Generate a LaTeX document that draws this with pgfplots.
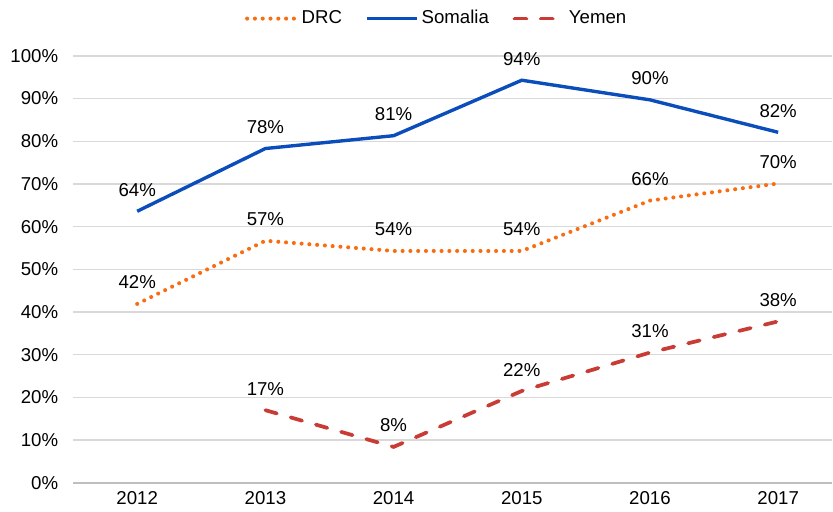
\documentclass[border=0pt]{standalone}
\usepackage{pgfplots}
\pgfplotsset{compat=1.18}
\usepackage{fontspec}
\setmainfont{Liberation Sans}
\definecolor{cDRC}{HTML}{F96C10}
\definecolor{cSom}{HTML}{0A4DBB}
\definecolor{cYem}{HTML}{C93C36}
\definecolor{gridc}{HTML}{D9D9D9}
\definecolor{axc}{HTML}{BFBFBF}
\begin{document}
\fontsize{11}{13}\selectfont
\begin{tikzpicture}
\begin{axis}[
  scale only axis, width=448pt, height=252pt,
  xmin=-0.5, xmax=5.42, ymin=0, ymax=100,
  xtick={0,1,2,3,4,5}, xticklabels={2012,2013,2014,2015,2016,2017},
  ytick={0,10,...,100},
  yticklabel={\pgfmathprintnumber{\tick}\%},
  /pgf/number format/assume math mode=true,
  ymajorgrids, grid style={draw=gridc, line width=0.8pt},
  axis x line*=bottom, axis y line*=left,
  y axis line style={draw=none},
  x axis line style={draw=axc, line width=1.2pt, -},
  major tick length=0pt,
  tick label style={font=\fontsize{11}{13}\selectfont, text=black},
  xticklabel style={yshift=-1.5pt},
  yticklabel style={xshift=-5pt},
  legend style={at={(0.48,1.0)}, anchor=south, yshift=13pt, draw=none, fill=none,
    legend columns=3, font=\fontsize{11}{13}\selectfont,
    /tikz/every even column/.append style={column sep=12pt}},
  legend image code/.code={\draw[#1] (0pt,0pt) -- (29pt,0pt);},
  nodes near coords, point meta=explicit symbolic,
  every node near coord/.append style={font=\fontsize{11}{13}\selectfont, text=black, yshift=4pt},
  clip=false,
]
\addplot[cDRC, line width=2.4pt, line cap=round, dash pattern=on 0pt off 4.6pt] coordinates {
 (0,41.9) [42\%] (1,56.7) [57\%] (2,54.3) [54\%] (3,54.3) [54\%] (4,66.1) [66\%] (5,70.1) [70\%]};
\addlegendentry{DRC}
\addplot[cSom, line width=2pt] coordinates {
 (0,63.6) [64\%] (1,78.3) [78\%] (2,81.3) [81\%] (3,94.3) [94\%] (4,89.7) [90\%] (5,82.1) [82\%]};
\addlegendentry{Somalia}
\addplot[cYem, line width=2.2pt, line cap=round, dash pattern=on 7pt off 8.5pt] coordinates {
 (1,17.0) [17\%] (2,8.4) [8\%] (3,21.5) [22\%] (4,30.5) [31\%] (5,37.8) [38\%]};
\addlegendentry{Yemen}
\end{axis}
\path (current axis.north) ++(0,33pt);
\path (current axis.outer west) ++(-2.5pt,0);
\end{tikzpicture}
\end{document}
